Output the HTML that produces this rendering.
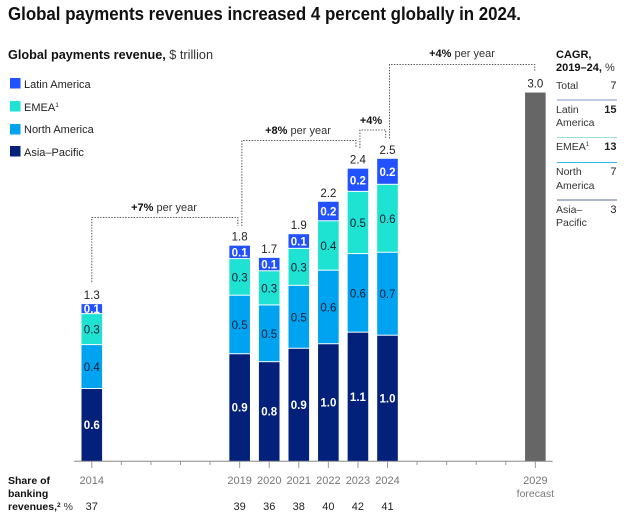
<!DOCTYPE html>
<html lang="en">
<head>
<meta charset="utf-8">
<title>Global payments revenues</title>
<style>
html,body{margin:0;padding:0;background:#fff;width:629px;height:520px;overflow:hidden}
svg{display:block;font-family:"Liberation Sans",Arial,sans-serif}
text{fill:#222}
.t11{font-size:11px}
.b{font-weight:700}
.cagr{font-size:10.5px;fill:#333}
.num{font-size:11px;text-anchor:end;fill:#222}
.grow{font-size:11px;text-anchor:middle;fill:#333}
</style>
</head>
<body>
<svg id="chart" width="629" height="520" viewBox="0 0 629 520" xmlns="http://www.w3.org/2000/svg">
  <text x="8" y="20" font-size="18" font-weight="700" fill="#111" textLength="513" lengthAdjust="spacingAndGlyphs" style="fill:#111">Global payments revenues increased 4 percent globally in 2024.</text>
  <text x="8" y="59" font-size="12.5" textLength="205" lengthAdjust="spacingAndGlyphs"><tspan font-weight="700" style="fill:#111">Global payments revenue,</tspan> <tspan style="fill:#333">$ trillion</tspan></text>

  <g>
    <g><rect x="10" y="78" width="10.5" height="10.5" fill="#2251ff"/><text class="t11" x="24" y="88">Latin America</text></g>
    <g><rect x="10" y="101" width="10.5" height="10.5" fill="#1ee3d3"/><text class="t11" x="24" y="111">EMEA<tspan font-size="6.5" dy="-4">1</tspan></text></g>
    <g><rect x="10" y="124" width="10.5" height="10.5" fill="#00a3ef"/><text class="t11" x="24" y="133">North America</text></g>
    <g><rect x="10" y="146" width="10.5" height="10.5" fill="#03207a"/><text class="t11" x="24" y="156">Asia–Pacific</text></g>
  </g>

  <g id="bars"></g>
  <g id="connectors"></g>
  <g id="axis"></g>

  <g>
    <text class="grow" x="164" y="211"><tspan class="b" style="fill:#111">+7%</tspan> per year</text>
    <text class="grow" x="298" y="134"><tspan class="b" style="fill:#111">+8%</tspan> per year</text>
    <text class="grow" x="371" y="124"><tspan class="b" style="fill:#111">+4%</tspan></text>
    <text class="grow" x="462" y="57"><tspan class="b" style="fill:#111">+4%</tspan> per year</text>
  </g>

  <g>
    <text font-size="11" x="556" y="58"><tspan class="b" style="fill:#111">CAGR,</tspan><tspan x="556" dy="13" class="b" style="fill:#111">2019–24,</tspan><tspan style="fill:#333"> %</tspan></text>
    <text class="cagr" x="556" y="89">Total</text><text class="num" x="616.5" y="89">7</text>
    <line x1="557" x2="617" y1="100" y2="100" stroke="#7f96c8" stroke-width="1"/>
    <text class="cagr" x="556" y="113">Latin</text><text class="cagr" x="556" y="126">America</text><text class="num b" x="616.5" y="113">15</text>
    <line x1="557" x2="617" y1="137.5" y2="137.5" stroke="#9edcdc" stroke-width="1"/>
    <text class="cagr" x="556" y="150">EMEA<tspan font-size="6" dy="-4">1</tspan></text><text class="num b" x="616.5" y="150">13</text>
    <line x1="557" x2="617" y1="162.5" y2="162.5" stroke="#2fb8e8" stroke-width="1"/>
    <text class="cagr" x="556" y="175">North</text><text class="cagr" x="556" y="189">America</text><text class="num" x="616.5" y="175">7</text>
    <line x1="557" x2="617" y1="200" y2="200" stroke="#5c6c94" stroke-width="1"/>
    <text class="cagr" x="556" y="213">Asia–</text><text class="cagr" x="556" y="226">Pacific</text><text class="num" x="616.5" y="213">3</text>
  </g>

  <text font-size="10.5" x="8" y="484"><tspan class="b" style="fill:#111">Share of</tspan><tspan x="8" dy="13" class="b" style="fill:#111">banking</tspan><tspan x="8" dy="13" class="b" style="fill:#111">revenues,</tspan><tspan class="b" font-size="6.5" dy="-3" style="fill:#111">2</tspan><tspan dy="3" style="fill:#333"> %</tspan></text>
  <g id="share"></g>
</svg>
<script>
const years = [2014, 2019, 2020, 2021, 2022, 2023, 2024, 2029];
const asiaPacific = [0.59, 0.875, 0.81, 0.92, 0.957, 1.052, 1.027, null];
const northAmerica = [0.36, 0.48, 0.465, 0.516, 0.603, 0.644, 0.68, null];
const emea = [0.254, 0.30, 0.28, 0.303, 0.405, 0.51, 0.557, null];
const latinAmerica = [0.082, 0.11, 0.11, 0.12, 0.16, 0.19, 0.213, null];
const forecastTotal = [null, null, null, null, null, null, null, 3.02];
const totalLabels = ['1.3', '1.8', '1.7', '1.9', '2.2', '2.4', '2.5', '3.0'];
const shareValues = [37, 39, 36, 38, 40, 42, 41, null];
const axisStartYear = 2014;
const axisEndYear = 2029;

const NS = 'http://www.w3.org/2000/svg';
const xScale = function (year) { return 91.8 + (year - 2014) * 29.57; };
const yScale = function (value) { return 461 - value * 122; };
const barWidth = 20.6;

function make(tag, parent, attrs, content) {
  const el = document.createElementNS(NS, tag);
  for (const key in attrs) { el.setAttribute(key, attrs[key]); }
  if (content !== undefined) { el.textContent = content; }
  parent.appendChild(el);
  return el;
}

const barsGroup = document.getElementById('bars');
const stackOrder = [
  { key: 'asia-pacific', values: asiaPacific, fill: '#03207a', text: '#fff', weight: 700 },
  { key: 'north-america', values: northAmerica, fill: '#00a3ef', text: '#0b1a33', weight: 400 },
  { key: 'emea', values: emea, fill: '#1ee3d3', text: '#0b1a33', weight: 400 },
  { key: 'latin-america', values: latinAmerica, fill: '#2251ff', text: '#fff', weight: 700 }
];

years.forEach(function (year, i) {
  const cx = xScale(year);
  let cumulative = 0;
  if (forecastTotal[i] !== null) {
    cumulative = forecastTotal[i];
    const fb = make('rect', barsGroup, { x: cx - barWidth / 2, y: yScale(cumulative), width: barWidth, height: yScale(0) - yScale(cumulative), fill: '#666' });
    
    
  } else {
    stackOrder.forEach(function (s, si) {
      const v = s.values[i];
      const top = yScale(cumulative + v);
      const bottom = yScale(cumulative);
      const gap = si === 0 ? 0 : 1;
      const r = make('rect', barsGroup, { x: cx - barWidth / 2, y: top, width: barWidth, height: bottom - top - gap, fill: s.fill });
      
      
      const lab = make('text', barsGroup, { x: cx, y: (top + bottom) / 2 + 4, 'text-anchor': 'middle', 'font-size': 11.5, 'font-weight': s.weight, style: 'fill:' + s.text }, v.toFixed(1));
      
      
      cumulative += v;
    });
  }
  const total = make('text', barsGroup, { x: cx, y: yScale(cumulative) - 5, 'text-anchor': 'middle', 'font-size': 11.5, style: 'fill:#222' }, totalLabels[i]);
  
  
});

const axisGroup = document.getElementById('axis');
const baseline = make('line', axisGroup, { x1: 74, x2: 552.7, y1: 461.3, y2: 461.3, stroke: '#888', 'stroke-width': 1 });


for (let y = axisStartYear; y <= axisEndYear; y++) {
  const major = years.indexOf(y) >= 0;
  const tick = make('line', axisGroup, { x1: xScale(y), x2: xScale(y), y1: 461.3, y2: major ? 468 : 465, stroke: '#999', 'stroke-width': 1 });
  
  
}
years.forEach(function (year) {
  const lab = make('text', axisGroup, { x: xScale(year), y: 484, 'text-anchor': 'middle', 'font-size': 11, style: 'fill:#777' }, String(year));
  
  
});
const forecastLabel = make('text', axisGroup, { x: xScale(2029), y: 497, 'text-anchor': 'middle', 'font-size': 10.5, style: 'fill:#777' }, 'forecast');



const shareGroup = document.getElementById('share');
years.forEach(function (year, i) {
  if (shareValues[i] === null) { return; }
  const lab = make('text', shareGroup, { x: xScale(year), y: 510, 'text-anchor': 'middle', 'font-size': 11, style: 'fill:#222' }, String(shareValues[i]));
  
  
});

const connectorGroup = document.getElementById('connectors');
function connector(name, fromX, fromY, topY, toX, toY) {
  const pl = make('polyline', connectorGroup, {
    points: fromX + ',' + fromY + ' ' + fromX + ',' + topY + ' ' + toX + ',' + topY + ' ' + toX + ',' + toY,
    fill: 'none', stroke: '#555', 'stroke-width': 1, 'stroke-dasharray': '1.4 1.4'
  });
  
  
}
connector('connector-2014-2019', xScale(2014), 282, 217.5, xScale(2019) - 1.8, 226);
connector('connector-2019-2023', xScale(2019) + 2.2, 226, 140.5, xScale(2023) - 2, 148);
connector('connector-2023-2024', xScale(2023) + 2, 148, 130, xScale(2024) - 1.8, 138.5);
connector('connector-2024-2029', xScale(2024) + 2, 138.5, 64.5, xScale(2029) - 0.6, 72);
</script>
</body>
</html>
